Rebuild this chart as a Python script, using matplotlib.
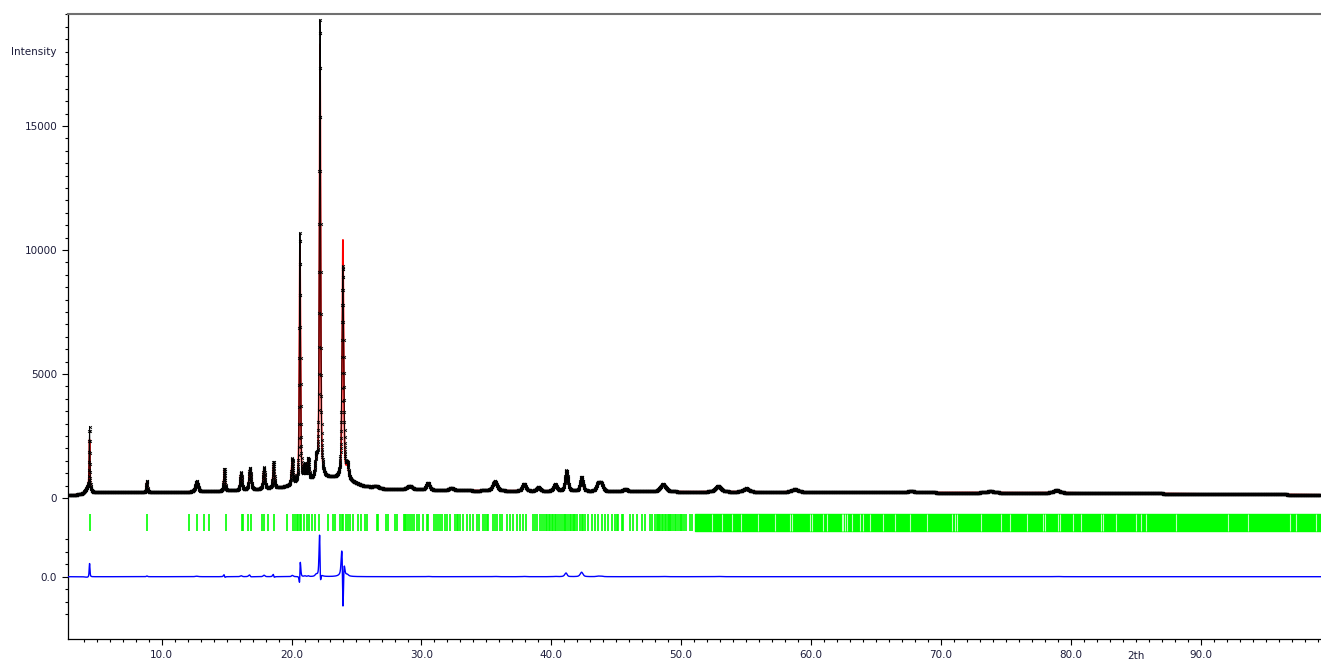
import numpy as np
import matplotlib
matplotlib.use("Agg")
import matplotlib.pyplot as plt
from matplotlib.transforms import blended_transform_factory

# 2theta range shown
x_lo, x_hi = 2.79, 99.26
step = 0.01

# background (2theta, counts)
bg_pos = [2.8, 3.5, 4.0, 5.0, 8.0, 12.0, 14.0, 17.0, 19.0, 20.5, 21.5, 23.0, 24.5, 25.5, 27.0, 30.0, 35.0, 40.0, 50.0, 60.0, 70.0, 80.0, 90.0, 99.3]
bg_val = [100, 130, 160, 220, 230, 240, 260, 320, 400, 520, 650, 800, 650, 480, 370, 320, 290, 270, 250, 240, 220, 210, 170, 130]

# peaks: position, observed / calculated height, observed / calculated fwhm, calc shift
peak_pos = [4.45, 4.30, 8.86, 12.70, 14.83, 16.11, 16.80, 17.88, 18.62, 20.06, 20.65, 21.02, 21.29, 21.90,
            22.19, 23.95, 24.30, 26.5, 29.1, 30.5, 32.3, 35.65, 37.9, 39.0, 40.3, 41.17, 42.33, 43.6, 43.85,
            45.7, 48.6, 52.85, 55.0, 58.75, 67.7, 73.8, 78.9]
peak_obs = [2550, 220, 450, 420, 900, 720, 880, 860, 1060, 1050, 10100, 650, 880, 700,
            18500, 8600, 550, 80, 150, 300, 100, 380, 300, 160, 270, 830, 580, 300, 300,
            100, 300, 230, 140, 110, 60, 60, 110]
peak_calc = [2000, 250, 420, 400, 860, 680, 830, 800, 1010, 1000, 9850, 620, 850, 620,
             17600, 9700, 500, 80, 150, 290, 100, 370, 290, 160, 260, 700, 400, 280, 280,
             100, 290, 220, 140, 110, 60, 60, 100]
fwhm_obs = [0.07, 0.40, 0.10, 0.25, 0.12, 0.15, 0.18, 0.15, 0.13, 0.15, 0.10, 0.15, 0.15, 0.20,
            0.11, 0.16, 0.20, 0.40, 0.50, 0.30, 0.40, 0.40, 0.30, 0.30, 0.30, 0.25, 0.25, 0.30, 0.30,
            0.40, 0.50, 0.50, 0.50, 0.60, 0.60, 0.60, 0.50]
fwhm_calc = [0.07, 0.40, 0.10, 0.25, 0.12, 0.15, 0.18, 0.15, 0.13, 0.15, 0.10, 0.15, 0.15, 0.20,
             0.108, 0.13, 0.20, 0.40, 0.50, 0.30, 0.40, 0.40, 0.30, 0.30, 0.30, 0.25, 0.25, 0.30, 0.30,
             0.40, 0.50, 0.50, 0.50, 0.60, 0.60, 0.60, 0.50]
calc_shift = [0, 0, 0, 0, 0.005, 0, 0.005, 0, 0.005, 0, -0.003, 0, 0, 0,
              0.004, 0.006, 0, 0, 0, 0, 0, 0, 0, 0, 0, 0.01, 0, 0, 0,
              0, 0, 0, 0, 0, 0, 0, 0]

# reflection positions (green ticks), sparse part
refl_pos = [4.45, 8.86, 12.14, 12.70, 13.29, 13.62, 14.93, 16.16, 16.29, 16.67, 16.85, 17.70, 17.88, 18.21,
            18.62, 19.62, 20.14, 20.26, 20.40, 20.52, 20.63, 20.74, 20.97, 21.16, 21.33, 21.55, 21.80, 22.13,
            22.83, 23.19, 23.36, 23.74, 23.86, 23.98, 24.22, 24.36, 24.48, 24.76, 25.09, 25.31, 25.65, 25.78,
            26.55, 26.67, 27.26, 27.44, 27.96, 28.14, 28.65, 28.75, 28.85, 28.98, 29.11, 29.24, 29.42, 29.67,
            29.83, 30.15, 30.40, 30.53, 30.97, 31.12, 31.27, 31.43, 31.58, 31.81, 31.94, 32.20, 32.58, 32.71,
            32.84, 32.97, 33.22, 33.48, 33.74, 33.99, 34.25, 34.43, 34.76, 34.89, 35.02, 35.15, 35.53, 35.66,
            35.79, 36.04, 36.17, 36.56, 36.81, 37.07, 37.33, 37.58, 37.84, 38.04, 38.61, 38.74, 38.91, 39.12,
            39.25, 39.43, 39.58, 39.68, 39.79, 39.89, 40.02, 40.15, 40.27, 40.40, 40.53, 40.66, 40.85, 40.95,
            41.05, 41.15, 41.25, 41.45, 41.55, 41.65, 41.75, 41.85, 41.95, 42.20, 42.35, 42.46, 42.59, 42.85,
            43.10, 43.36, 43.62, 43.87, 44.13, 44.39, 44.64, 44.90, 45.03, 45.16, 45.41, 45.54, 46.05, 46.31,
            46.57, 46.95, 47.21, 47.59, 47.75, 48.00, 48.10, 48.20, 48.30, 48.40, 48.50, 48.60, 48.75, 48.85,
            48.95, 49.05, 49.15, 49.25, 49.40, 49.50, 49.60, 49.75, 49.90, 50.00, 50.10, 50.25, 50.40, 50.67,
            50.87]
# dense part: solid band and the few gaps in it
refl_band = (51.05, 99.3)
refl_gaps = [52.36, 53.15, 53.92, 54.64, 55.90, 57.26, 58.38, 58.56, 59.92, 60.10, 60.94, 61.20, 62.36,
             62.48, 62.61, 62.74, 63.12, 63.77, 64.02, 64.52, 65.56, 66.46, 67.61, 68.89, 70.82, 71.07,
             71.20, 73.12, 74.66, 75.30, 76.59, 77.82, 77.99, 79.02, 79.15, 80.17, 80.82, 82.35, 82.48,
             83.51, 85.05, 85.43, 85.77, 88.12, 92.10, 93.64, 96.84, 97.36, 98.89]

diff_zero = -3173        # where the difference curve sits
tick_lo, tick_hi = -1350, -645


def pvoigt(x, x0, h, w, eta=0.6):
    g = np.exp(-4 * np.log(2) * (x - x0) ** 2 / w ** 2)
    l = 1 / (1 + 4 * (x - x0) ** 2 / w ** 2)
    return h * (eta * l + (1 - eta) * g)


tth = np.arange(x_lo, x_hi, step)
bg = np.interp(tth, bg_pos, bg_val)
y_obs = bg.copy()
y_calc = bg.copy()
for p, ho, hc, wo, wc, s in zip(peak_pos, peak_obs, peak_calc, fwhm_obs, fwhm_calc, calc_shift):
    y_obs += pvoigt(tth, p, ho, wo)
    y_calc += pvoigt(tth, p + s, hc, wc)
y_diff = y_obs - y_calc + diff_zero

fig = plt.figure(figsize=(13.21, 6.64), dpi=100)
ax = fig.add_axes([68 / 1321, 1 - 639 / 664, 1 - 68 / 1321, 625 / 664])

ax.plot(tth, y_calc, color="red", lw=1.2, zorder=2)
ax.plot(tth, y_obs, color="black", lw=0.7, marker="x", ms=2.0, mew=0.6, zorder=3)
ax.plot(tth, y_diff, color="blue", lw=1.0, zorder=3)

ax.vlines(refl_pos, tick_lo, tick_hi, color="#00ff00", lw=1.2, zorder=2)
ax.broken_barh([(refl_band[0], refl_band[1] - refl_band[0])], (tick_lo, tick_hi - tick_lo),
               color="#00ff00", zorder=2)
ax.vlines(refl_gaps, tick_lo, tick_hi, color="white", lw=0.8, alpha=0.75, zorder=2)

ax.set_xlim(x_lo, x_hi)
ax.set_ylim(-5685, 19516)

txt = "#1c1c3a"
ax.set_xticks(np.arange(10, 100, 10))
ax.set_xticklabels([f"{v:.1f}" for v in range(10, 100, 10)], fontsize=7.5, color=txt)
ax.set_xticks(np.arange(4, 100, 1), minor=True)
ax.set_yticks([0, 5000, 10000, 15000, diff_zero])
ax.set_yticklabels(["0", "5000", "10000", "15000", "0.0"], fontsize=7.5, color=txt)
minor_y = list(np.arange(0, 19501, 500)) + list(diff_zero + np.arange(-1500, 1501, 500))
ax.set_yticks(minor_y, minor=True)
ax.tick_params(which="major", length=4.3, width=0.8, pad=3.5)
ax.tick_params(which="minor", length=2.4, width=0.8)

tr = blended_transform_factory(ax.transAxes, ax.transData)
ax.text(-0.0088, 18000, "Intensity", transform=tr, ha="right", va="center", fontsize=7.5, color=txt)
tr2 = blended_transform_factory(ax.transData, ax.transAxes)
ax.text(85, -0.0272, "2th", transform=tr2, ha="center", va="center", fontsize=7.5, color=txt)

ax.spines["right"].set_visible(False)
ax.spines["top"].set_color("#707070")
ax.spines["top"].set_linewidth(1.5)
ax.spines["left"].set_linewidth(0.9)
ax.spines["bottom"].set_linewidth(0.9)

fig.savefig("out.png", dpi=100)
